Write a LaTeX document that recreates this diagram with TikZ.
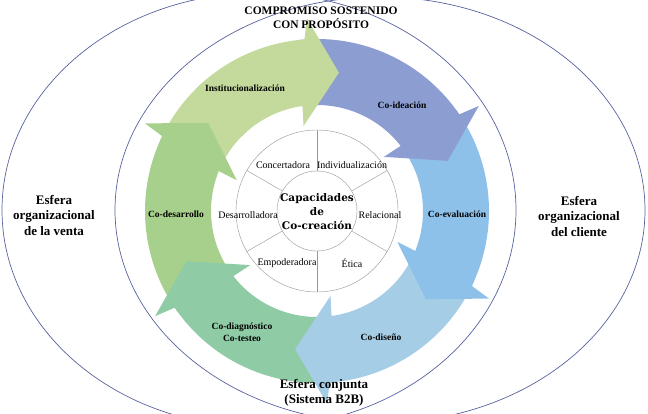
\documentclass[tikz,border=0pt]{standalone}
\usepackage{fontspec}
\setmainfont{Liberation Serif}
\newfontfamily\capfont{DejaVu Serif}
\usepackage{tikz}
\definecolor{inst}{RGB}{196,218,156}
\definecolor{idea}{RGB}{140,157,210}
\definecolor{eval}{RGB}{142,193,234}
\definecolor{dise}{RGB}{166,205,230}
\definecolor{diag}{RGB}{143,203,165}
\definecolor{desa}{RGB}{168,208,141}
\definecolor{elipc}{RGB}{88,98,158}
\definecolor{gris}{RGB}{150,150,150}

\begin{document}
\begin{tikzpicture}[x=1pt,y=1pt,
 lab/.style={font=\fontsize{9.5}{11.5}\selectfont\bfseries,align=center,inner sep=0pt},
 esf/.style={font=\fontsize{13}{15.5}\selectfont\bfseries,align=center,inner sep=0pt},
 capa/.style={font=\fontsize{10}{12}\selectfont,inner sep=0pt},
 elip/.style={draw=elipc,line width=0.7pt}]
\useasboundingbox (0,0) rectangle (648,413);
\clip (0,0) rectangle (648,413);
% esferas
\draw[elip] (259,203) ellipse[x radius=257,y radius=217];
\draw[elip] (380,203) ellipse[x radius=265,y radius=213];
% ciclo de flechas
\begin{scope}[shift={(317,202)}]
\fill[inst] (156:172) arc[start angle=156,end angle=130,radius=172] -- (130:106) arc[start angle=130,end angle=156,radius=106] -- cycle;
\foreach \o/\c in {-207/desa,-147/diag,-87/dise,-27/eval,33/idea}
 \fill[\c] ({\o+63}:172) arc[start angle=\o+63,end angle=\o+1.2,radius=172] -- (\o:193) -- ({\o-12}:140) -- ({\o+6}:86) -- ({\o+4.9}:106) arc[start angle=\o+4.9,end angle=\o+63,radius=106] -- cycle;
\fill[inst] (135:172) arc[start angle=135,end angle=94.2,radius=172] -- (93:193) -- (81:140) -- (99:86) -- (97.9:106) arc[start angle=97.9,end angle=135,radius=106] -- cycle;
% rueda de capacidades
\draw[gris,fill=white] (0,0) circle[radius=81];
\draw[gris] (0,0) circle[radius=40];
\foreach \a in {90,30,-30,-90,-150,150} \draw[gris] (\a:40) -- (\a:81);
\node[align=center,inner sep=0pt,font=\capfont\bfseries\fontsize{10.5}{14}\selectfont] (cc) at (0,-1) {Capacidades\\de\\Co-creación};
\end{scope}
\node[capa] (conc) at (283,248) {Concertadora};
\node[capa] (indi) at (352,248) {Individualización};
\node[capa] (rela) at (380,198) {Relacional};
\node[capa] (etic) at (352,150) {Ética};
\node[capa] (empo) at (287,150) {Empoderadora};
\node[capa] (desr) at (248,198) {Desarrolladora};
% etapas
\node[lab] (l1) at (245,325) {Institucionalización};
\node[lab] (l2) at (402,308) {Co-ideación};
\node[lab] (l3) at (457,199) {Co-evaluación};
\node[lab] (l4) at (381,76) {Co-diseño};
\node[lab] (l5) at (242,81) {Co-diagnóstico\\Co-testeo};
\node[lab] (l6) at (176,199) {Co-desarrollo};
% esferas, textos
\node[esf] (ev) at (54,198) {Esfera\\organizacional\\de la venta};
\node[esf] (ec) at (579,197) {Esfera\\organizacional\\del cliente};
\node[esf,font=\fontsize{11.5}{13.5}\selectfont\bfseries] (comp) at (321,395) {COMPROMISO SOSTENIDO\\CON PROPÓSITO};
\node[esf] (ej) at (324,20) {Esfera conjunta\\(Sistema B2B)};
\end{tikzpicture}
\end{document}
